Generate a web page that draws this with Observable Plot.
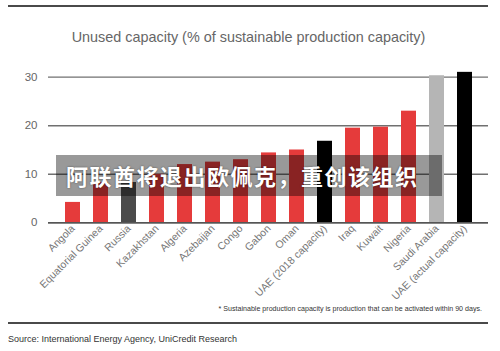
<!DOCTYPE html>
<html>
<head>
<meta charset="utf-8">
<script src="https://cdn.jsdelivr.net/npm/d3@7"></script>
<script src="https://cdn.jsdelivr.net/npm/@observablehq/plot@0.6"></script>
<style>
  html, body { margin: 0; padding: 0; background: #fff; }
  #wrap { position: relative; width: 500px; height: 351px; overflow: hidden; font-family: "Liberation Sans", Arial, sans-serif; }
  #chart { position: absolute; left: 0; top: 0; }
  .rule { position: absolute; left: 8px; width: 480px; height: 2px; background: #4a4a4a; }
  #title { position: absolute; left: 0; width: 497px; top: 29px; text-align: center; font-size: 14.4px; color: #666; }
  #note { position: absolute; right: 18px; top: 305px; font-size: 7.1px; color: #333; }
  #source { position: absolute; left: 8px; top: 334px; font-size: 9px; color: #333; }
  #banner { position: absolute; left: 56px; top: 155px; width: 386px; height: 41px; background: rgba(0,0,0,0.4);
            color: #fff; font-family: "Noto Sans CJK SC", sans-serif; font-weight: 700; font-size: 22px; line-height: 41px;
            padding-left: 10px; box-sizing: border-box; letter-spacing: 1.5px; text-shadow: 0 0 2px rgba(0,0,0,0.5); white-space: nowrap; }
</style>
</head>
<body>
<div id="wrap">
  <div class="rule" style="top:5px"></div>
  <div id="chart"></div>
  <div id="title">Unused capacity (% of sustainable production capacity)</div>
  <div id="note">* Sustainable production capacity is production that can be activated within 90 days.</div>
  <div class="rule" style="top:322px"></div>
  <div id="source">Source: International Energy Agency, UniCredit Research</div>
  <div id="banner">阿联酋将退出欧佩克，重创该组织</div>
</div>
<script>
const countries = ["Angola", "Equatorial Guinea", "Russia", "Kazakhstan", "Algeria", "Azebaijan", "Congo", "Gabon", "Oman", "UAE (2018 capacity)", "Iraq", "Kuwait", "Nigeria", "Saudi Arabia", "UAE (actual capacity)"];
const values = [4.2, 8.3, 8.3, 10.0, 12.0, 12.5, 13.0, 14.4, 15.0, 16.8, 19.5, 19.7, 23.0, 30.3, 31.0];
const groups = ["other", "other", "Russia", "other", "other", "other", "other", "other", "other", "UAE", "other", "other", "other", "Saudi", "UAE"];
const yTicks = [0, 10, 20, 30];

const data = countries.map((c, i) => ({country: c, value: values[i], group: groups[i]}));

const chart = Plot.plot({
  width: 500,
  height: 351,
  marginLeft: 48,
  marginRight: 12,
  marginTop: 76.7,
  marginBottom: 128.7,
  style: {fontFamily: "Liberation Sans, Arial, sans-serif", background: "transparent"},
  x: {domain: countries, padding: 0.48, label: null},
  y: {domain: [0, 30], label: null},
  color: {domain: ["other", "Russia", "UAE", "Saudi"], range: ["#e53b3b", "#4b4b4b", "#000000", "#b5b5b5"]},
  marks: [
    Plot.gridY(yTicks, {stroke: "#707070", strokeOpacity: 1, strokeWidth: 1.3}),
    Plot.barY(data, {x: "country", y: "value", fill: "group"}),
    Plot.ruleY([0], {stroke: "#555", strokeWidth: 1.4}),
    Plot.axisY(yTicks, {tickSize: 0, tickPadding: 11, fontSize: 11.5, fill: "#666", label: null}),
    Plot.axisX({tickSize: 0, tickPadding: 4, tickRotate: -45, fontSize: 10.5, fill: "#777", label: null})
  ]
});
document.getElementById("chart").appendChild(chart);
</script>
</body>
</html>
